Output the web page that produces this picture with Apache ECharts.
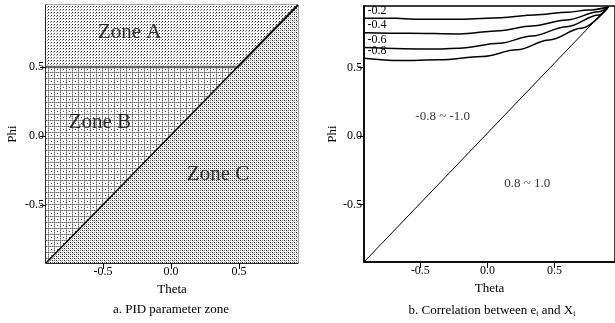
<!DOCTYPE html>
<html><head><meta charset="utf-8">
<script src="https://cdn.jsdelivr.net/npm/echarts@6/dist/echarts.min.js"></script>
<style>html,body{margin:0;padding:0;background:#fff}#c{width:615px;height:323px}</style>
</head><body><div id="c"></div>
<script>
// ---------- data ----------
const tickValues = [-0.5, 0, 0.5];
const axisMin = -0.92;
const leftXMax = 0.935;
const rightXMax = 0.95;
const yMax = 0.95;

// left panel: PID parameter zones
const leftDiagonal = [[-0.92, -0.92], [0.935, 0.95]];
const zoneABoundary = [[-0.92, 0.5], [0.49, 0.5], [0.935, 0.95]];
const zoneLabels = [
  { name: 'Zone A', value: [-0.30, 0.75] },
  { name: 'Zone B', value: [-0.52, 0.095] },
  { name: 'Zone C', value: [0.35, -0.28] }
];

// right panel: correlation contours
const curveNames = ['-0.2', '-0.4', '-0.6', '-0.8'];
const curve02 = [[-0.92, 0.86], [-0.68, 0.86], [-0.55, 0.853], [-0.2, 0.853], [0.1, 0.865], [0.35, 0.884], [0.6, 0.905], [0.75, 0.92], [0.9, 0.943]];
const curve04 = [[-0.92, 0.755], [-0.58, 0.751], [-0.21, 0.746], [0.09, 0.77], [0.33, 0.804], [0.59, 0.848], [0.83, 0.908], [0.9, 0.943]];
const curve06 = [[-0.92, 0.646], [-0.41, 0.635], [-0.21, 0.642], [0.09, 0.678], [0.33, 0.731], [0.59, 0.799], [0.83, 0.884], [0.9, 0.943]];
const curve08 = [[-0.92, 0.569], [-0.65, 0.552], [-0.36, 0.557], [-0.04, 0.581], [0.22, 0.63], [0.46, 0.702], [0.70, 0.787], [0.9, 0.943]];
const curves = [curve02, curve04, curve06, curve08];
const rightDiagonal = [[-0.92, -0.92], [0.9, 0.943]];
const regionLabels = [
  { name: '-0.8 ~ -1.0', value: [-0.33, 0.135] },
  { name: '0.8 ~ 1.0', value: [0.30, -0.35] }
];

// ---------- styling ----------
const F = '"Liberation Serif", "DejaVu Serif", serif';
const INK = '#000';

function makePattern(size, dots) {
  const c = document.createElement('canvas');
  c.width = size; c.height = size;
  const g = c.getContext('2d');
  g.fillStyle = '#fff'; g.fillRect(0, 0, size, size);
  dots.forEach(d => { g.fillStyle = d[2]; g.fillRect(d[0], d[1], 1, 1); });
  return { image: c, repeat: 'repeat' };
}
const patA = makePattern(3, [[0, 0, '#222'], [2, 1, '#999']]);
const patB = makePattern(6, [
  [0, 0, '#666'], [1, 0, '#aaa'], [2, 0, '#666'], [3, 0, '#aaa'], [4, 0, '#666'], [5, 0, '#aaa'],
  [0, 1, '#aaa'], [0, 2, '#666'], [0, 3, '#aaa'], [0, 4, '#666'], [0, 5, '#aaa'],
  [3, 3, '#333']
]);
const patC = makePattern(4, [[0, 0, '#222'], [2, 2, '#222'], [2, 0, '#777'], [0, 2, '#777'], [1, 1, '#ccc'], [3, 3, '#ccc']]);

function xAxisCfg(gridIndex, max) {
  return {
    type: 'value', gridIndex, min: axisMin, max,
    name: 'Theta', nameLocation: 'middle', nameGap: 19,
    nameTextStyle: { fontFamily: F, fontSize: 13, color: INK },
    axisLine: { onZero: false, lineStyle: { color: '#000', width: 1.5 } },
    axisTick: { customValues: tickValues, length: 6, lineStyle: { color: '#000' } },
    axisLabel: { customValues: tickValues, formatter: v => v.toFixed(1), fontFamily: F, fontSize: 12, color: INK, margin: 3 },
    splitLine: { show: false }
  };
}
function yAxisCfg(gridIndex, gap) {
  return {
    type: 'value', gridIndex, min: axisMin, max: yMax,
    name: 'Phi', nameLocation: 'middle', nameGap: gap,
    nameTextStyle: { fontFamily: F, fontSize: 13, color: INK },
    axisLine: { onZero: false, lineStyle: { color: '#000', width: 1.5 } },
    axisTick: { customValues: tickValues, length: 6, lineStyle: { color: '#000' } },
    axisLabel: { customValues: tickValues, formatter: v => v.toFixed(1), fontFamily: F, fontSize: 12, color: INK, margin: 2 },
    splitLine: { show: false }
  };
}

const series = [
  { type: 'line', xAxisIndex: 0, yAxisIndex: 0, data: leftDiagonal, symbol: 'none', z: 1,
    lineStyle: { width: 0 }, areaStyle: { color: patB, opacity: 1, origin: 'end' } },
  { type: 'line', xAxisIndex: 0, yAxisIndex: 0, data: leftDiagonal, symbol: 'none', z: 1,
    lineStyle: { width: 0 }, areaStyle: { color: patC, opacity: 1, origin: 'start' } },
  { type: 'line', xAxisIndex: 0, yAxisIndex: 0, data: zoneABoundary, symbol: 'none', z: 2,
    lineStyle: { width: 2.5, color: '#666' }, areaStyle: { color: patA, opacity: 1, origin: 'end' } },
  { type: 'line', xAxisIndex: 0, yAxisIndex: 0, data: leftDiagonal, symbol: 'none', z: 3,
    lineStyle: { width: 1.5, color: '#000' } },
  { type: 'scatter', xAxisIndex: 0, yAxisIndex: 0, data: zoneLabels, symbolSize: 1, z: 5,
    itemStyle: { color: 'rgba(0,0,0,0)' },
    label: { show: true, formatter: '{b}', position: [0, 0], align: 'center', verticalAlign: 'middle',
      fontFamily: F, fontSize: 21, color: INK } }
];

curves.forEach((curve, k) => {
  series.push({
    type: 'line', xAxisIndex: 1, yAxisIndex: 1, smooth: 0.35, smoothMonotone: 'x',
    symbol: 'circle', symbolSize: 1, showSymbol: true, z: 3,
    itemStyle: { color: 'rgba(0,0,0,0)' },
    lineStyle: { width: 1.5, color: '#000' },
    data: curve.map((p, i) => i === 0 ? {
      value: p,
      label: { show: true, formatter: curveNames[k], position: [4, -13], fontFamily: F, fontSize: 12, color: INK }
    } : { value: p })
  });
});
series.push({ type: 'line', xAxisIndex: 1, yAxisIndex: 1, data: rightDiagonal, symbol: 'none', z: 3,
  lineStyle: { width: 1, color: '#000' } });
series.push({ type: 'scatter', xAxisIndex: 1, yAxisIndex: 1, data: regionLabels, symbolSize: 1, z: 5,
  itemStyle: { color: 'rgba(0,0,0,0)' },
  label: { show: true, formatter: '{b}', position: [0, 0], align: 'center', verticalAlign: 'middle',
    fontFamily: F, fontSize: 13, color: INK } });

const chart = echarts.init(document.getElementById('c'), null, { renderer: 'canvas' });
chart.setOption({
  animation: false,
  backgroundColor: '#fff',
  grid: [
    { left: 46, top: 5, width: 252, height: 258, show: true, borderColor: '#444', borderWidth: 1 },
    { left: 364, top: 6, width: 252, height: 256, show: true, borderColor: '#000', borderWidth: 1.5 }
  ],
  xAxis: [xAxisCfg(0, leftXMax), xAxisCfg(1, rightXMax)],
  yAxis: [yAxisCfg(0, 27), yAxisCfg(1, 25)],
  series,
  graphic: [
    { type: 'text', x: 171, y: 303, style: { text: 'a. PID parameter zone', fontFamily: F, fontSize: 13, fill: INK, align: 'center' } },
    { type: 'text', x: 492, y: 303, style: {
        text: 'b. Correlation between e{s|t} and X{s|t}', fontFamily: F, fontSize: 13, fill: INK, align: 'center',
        rich: { s: { fontFamily: F, fontSize: 8, fill: INK, padding: [7, 0, 0, 0] } } } }
  ]
});
</script>
</body></html>
